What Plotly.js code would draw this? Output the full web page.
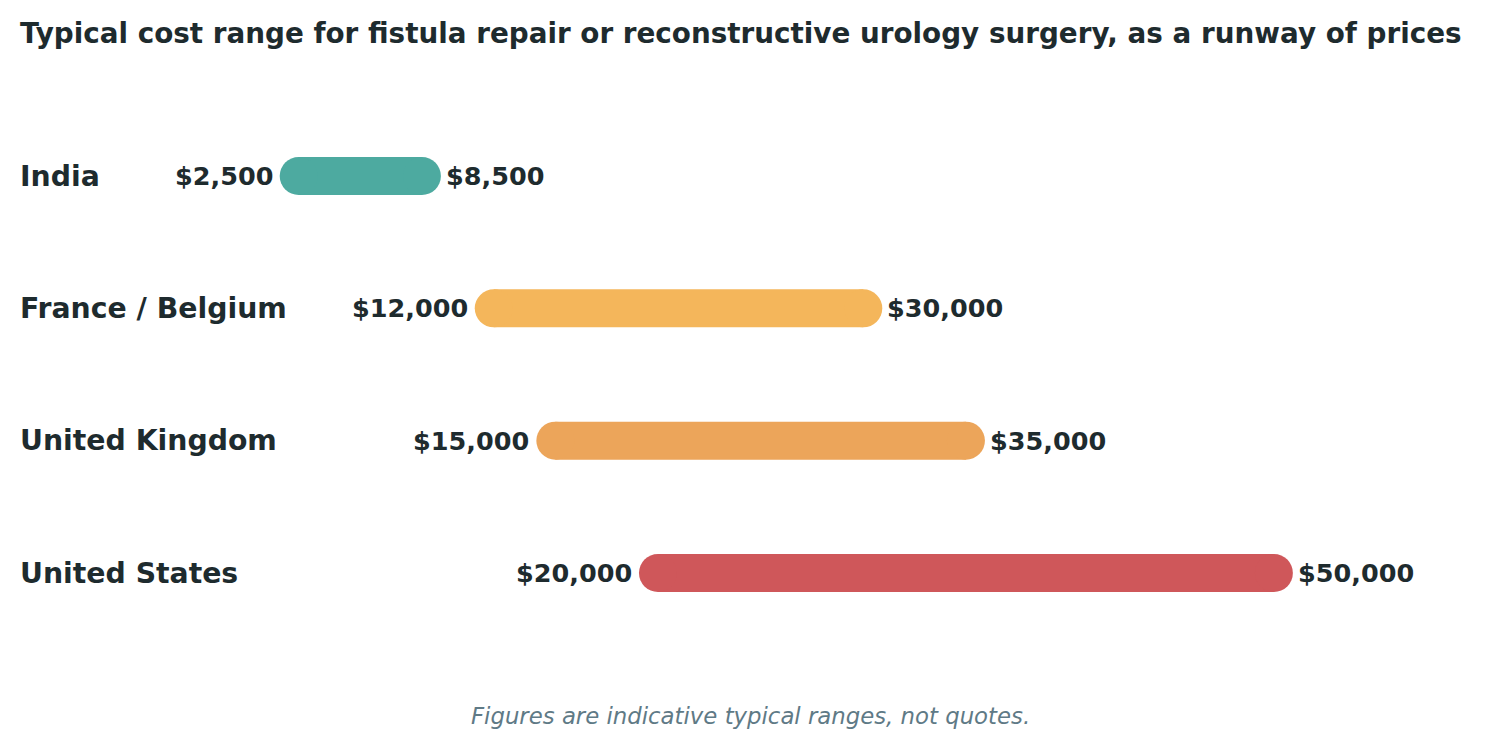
<!DOCTYPE html>
<html>
<head>
<meta charset="utf-8">
<script src="https://cdn.plot.ly/plotly-3.0.1.min.js"></script>
<style>html,body{margin:0;padding:0;background:#fff;}#chart{width:1500px;height:749px;}</style>
</head>
<body>
<div id="chart"></div>
<script>
const countries = ["India", "France / Belgium", "United Kingdom", "United States"];
const lowValues = [2500, 12000, 15000, 20000];
const highValues = [8500, 30000, 35000, 50000];
const barColors = ["#4DAAA0", "#F4B65B", "#ECA55A", "#CF575A"];

const textColor = "#1E2B2E";
const fontFam = "DejaVu Sans, sans-serif";
const fmt = v => "$" + v.toLocaleString("en-US");

const traces = countries.map((c, i) => ({
  type: "scatter",
  mode: "lines+markers",
  x: [lowValues[i], highValues[i]],
  y: [c, c],
  line: {color: barColors[i], width: 38},
  marker: {color: barColors[i], size: 38, line: {width: 0}},
  hoverinfo: "skip",
  showlegend: false
}));

const annotations = [];
countries.forEach((c, i) => {
  annotations.push({
    xref: "paper", x: 18 / 1500, yref: "y", y: c,
    text: "<b>" + c + "</b>", showarrow: false, xanchor: "left", yanchor: "middle",
    font: {family: fontFam, size: 28.3, color: textColor}
  });
  annotations.push({
    xref: "x", x: lowValues[i], yref: "y", y: c,
    text: "<b>" + fmt(lowValues[i]) + "</b>", showarrow: false, xanchor: "right", yanchor: "middle",
    xshift: -24,
    font: {family: fontFam, size: 25.5, color: textColor}
  });
  annotations.push({
    xref: "x", x: highValues[i], yref: "y", y: c,
    text: "<b>" + fmt(highValues[i]) + "</b>", showarrow: false, xanchor: "left", yanchor: "middle",
    xshift: 22,
    font: {family: fontFam, size: 25.5, color: textColor}
  });
});
annotations.push({
  xref: "paper", x: 0.5, yref: "paper", y: 1 - 716 / 749,
  text: "<i>Figures are indicative typical ranges, not quotes.</i>", showarrow: false,
  xanchor: "center", yanchor: "middle",
  font: {family: fontFam, size: 22.8, color: "#5F7A86"}
});

const layout = {
  width: 1500, height: 749,
  margin: {l: 0, r: 0, t: 0, b: 0},
  paper_bgcolor: "#ffffff", plot_bgcolor: "#ffffff",
  title: {
    text: "<b>Typical cost range for fistula repair or reconstructive urology surgery, as a runway of prices</b>",
    xref: "paper", x: 20 / 1500, xanchor: "left",
    yref: "paper", y: 1 - 33 / 749, yanchor: "middle",
    font: {family: fontFam, size: 27.8, color: textColor}
  },
  xaxis: {range: [-12050, 61014], visible: false, fixedrange: true},
  yaxis: {type: "category", categoryarray: countries, range: [4.33, -1.33], visible: false, fixedrange: true},
  annotations: annotations,
  showlegend: false
};

Plotly.newPlot("chart", traces, layout, {displayModeBar: false, staticPlot: true});
</script>
</body>
</html>
